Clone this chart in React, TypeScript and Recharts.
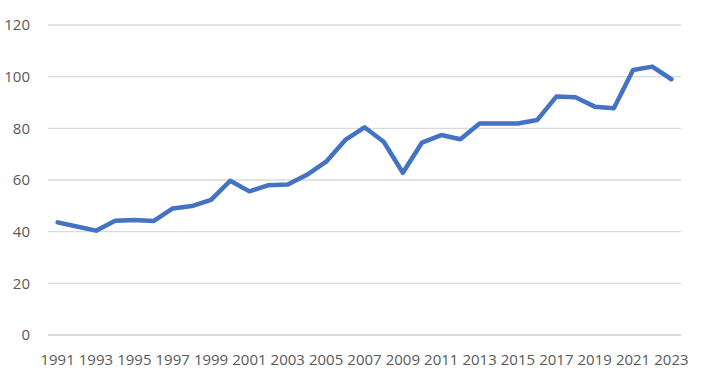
import { CartesianGrid, Line, LineChart, XAxis, YAxis } from "recharts"

const years = [
  1991, 1992, 1993, 1994, 1995, 1996, 1997, 1998, 1999, 2000, 2001, 2002, 2003, 2004, 2005, 2006, 2007,
  2008, 2009, 2010, 2011, 2012, 2013, 2014, 2015, 2016, 2017, 2018, 2019, 2020, 2021, 2022, 2023,
]

const values = [
  43.6, 42.0, 40.4, 44.2, 44.5, 44.1, 49.0, 49.9, 52.3, 59.7, 55.6, 58.0, 58.3, 62.0, 67.1, 75.5, 80.4,
  74.8, 62.8, 74.5, 77.4, 75.8, 81.9, 81.9, 81.9, 83.2, 92.3, 92.0, 88.4, 87.8, 102.6, 103.9, 99.0,
]

const yTicks = [0, 20, 40, 60, 80, 100, 120]

const data = years.map((year, i) => ({ year: String(year), value: values[i] }))

const tickStyle = { fill: "#595959", fontSize: 15, fontFamily: "'Open Sans', sans-serif" }

export default function App() {
  return (
    <div style={{ position: "absolute", left: 0, top: 0, background: "#fff" }}>
      <LineChart width={702} height={373} data={data} margin={{ top: 25, right: 21, bottom: 0, left: 0 }}>
        <CartesianGrid vertical={false} stroke="#d9d9d9" strokeWidth={1.3} />
        <XAxis
          dataKey="year"
          interval={1}
          padding={{ left: 9.6, right: 9.6 }}
          axisLine={{ stroke: "#d9d9d9", strokeWidth: 1.3 }}
          tickLine={false}
          tickMargin={13}
          height={38}
          tick={tickStyle}
        />
        <YAxis
          domain={[0, 120]}
          ticks={yTicks}
          width={48}
          axisLine={false}
          tickLine={false}
          tickMargin={12}
          tick={tickStyle}
        />
        <Line
          dataKey="value"
          stroke="#4472c4"
          strokeWidth={4.5}
          dot={false}
          strokeLinejoin="round"
          strokeLinecap="round"
          isAnimationActive={false}
        />
      </LineChart>
    </div>
  )
}
